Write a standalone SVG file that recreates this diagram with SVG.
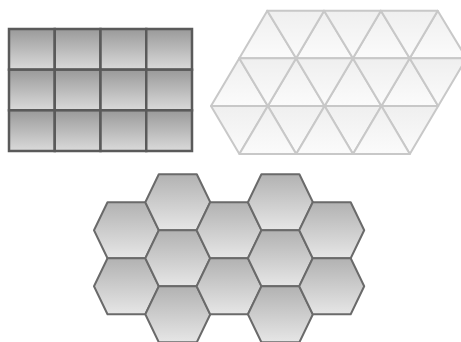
<svg xmlns="http://www.w3.org/2000/svg" xmlns:xlink="http://www.w3.org/1999/xlink" width="461" height="342" viewBox="0 0 461 342">
<defs>
<linearGradient id="gSq" x1="0" y1="0" x2="0" y2="1"><stop offset="0" stop-color="#9a9a9a"/><stop offset="1" stop-color="#dadada"/></linearGradient>
<linearGradient id="gHex" x1="0" y1="0" x2="0" y2="1"><stop offset="0" stop-color="#b2b2b2"/><stop offset="1" stop-color="#e6e6e6"/></linearGradient>
<linearGradient id="gTri" x1="0" y1="0" x2="0" y2="1"><stop offset="0" stop-color="#efefef"/><stop offset="1" stop-color="#fbfbfb"/></linearGradient>
<polygon id="hex" points="-19,-28 19,-28 32.5,0 19,28 -19,28 -32.5,0"/>
</defs>
<style>
.sq{fill:url(#gSq);stroke:#5a5a5a;stroke-width:2.5}
.tri{fill:url(#gTri);stroke:#c8c8c8;stroke-width:2;stroke-linejoin:round}
.hx{fill:url(#gHex);stroke:#6a6a6a;stroke-width:2;stroke-linejoin:round}
</style>
<rect width="461" height="342" fill="#ffffff"/>
<g id="squares">
<rect class="sq" x="9" y="29" width="45.75" height="40.67"/>
<rect class="sq" x="54.75" y="29" width="45.75" height="40.67"/>
<rect class="sq" x="100.5" y="29" width="45.75" height="40.67"/>
<rect class="sq" x="146.25" y="29" width="45.75" height="40.67"/>
<rect class="sq" x="9" y="69.67" width="45.75" height="40.67"/>
<rect class="sq" x="54.75" y="69.67" width="45.75" height="40.67"/>
<rect class="sq" x="100.5" y="69.67" width="45.75" height="40.67"/>
<rect class="sq" x="146.25" y="69.67" width="45.75" height="40.67"/>
<rect class="sq" x="9" y="110.33" width="45.75" height="40.67"/>
<rect class="sq" x="54.75" y="110.33" width="45.75" height="40.67"/>
<rect class="sq" x="100.5" y="110.33" width="45.75" height="40.67"/>
<rect class="sq" x="146.25" y="110.33" width="45.75" height="40.67"/>
</g>
<g id="triangles">
<polygon class="tri" points="267.3,10.7 239.3,58.3 296.1,58.3"/>
<polygon class="tri" points="324.1,10.7 296.1,58.3 352.9,58.3"/>
<polygon class="tri" points="380.9,10.7 352.9,58.3 409.7,58.3"/>
<polygon class="tri" points="437.7,10.7 409.7,58.3 466.5,58.3"/>
<polygon class="tri" points="267.3,10.7 324.1,10.7 296.1,58.3"/>
<polygon class="tri" points="324.1,10.7 380.9,10.7 352.9,58.3"/>
<polygon class="tri" points="380.9,10.7 437.7,10.7 409.7,58.3"/>
<polygon class="tri" points="239.3,58.3 211,106 267.8,106"/>
<polygon class="tri" points="296.1,58.3 267.8,106 324.6,106"/>
<polygon class="tri" points="352.9,58.3 324.6,106 381.4,106"/>
<polygon class="tri" points="409.7,58.3 381.4,106 438.2,106"/>
<polygon class="tri" points="239.3,58.3 296.1,58.3 267.8,106"/>
<polygon class="tri" points="296.1,58.3 352.9,58.3 324.6,106"/>
<polygon class="tri" points="352.9,58.3 409.7,58.3 381.4,106"/>
<polygon class="tri" points="409.7,58.3 466.5,58.3 438.2,106"/>
<polygon class="tri" points="211,106 267.8,106 239.4,154"/>
<polygon class="tri" points="267.8,106 324.6,106 296.2,154"/>
<polygon class="tri" points="324.6,106 381.4,106 353,154"/>
<polygon class="tri" points="381.4,106 438.2,106 409.8,154"/>
<polygon class="tri" points="239.4,154 296.2,154 267.8,106"/>
<polygon class="tri" points="296.2,154 353,154 324.6,106"/>
<polygon class="tri" points="353,154 409.8,154 381.4,106"/>
</g>
<g id="hexagons">
<use class="hx" xlink:href="#hex" href="#hex" transform="translate(126.5,230.3)"/>
<use class="hx" xlink:href="#hex" href="#hex" transform="translate(126.5,286.3)"/>
<use class="hx" xlink:href="#hex" href="#hex" transform="translate(177.8,202.3)"/>
<use class="hx" xlink:href="#hex" href="#hex" transform="translate(177.8,258.3)"/>
<use class="hx" xlink:href="#hex" href="#hex" transform="translate(177.8,314.3)"/>
<use class="hx" xlink:href="#hex" href="#hex" transform="translate(229.1,230.3)"/>
<use class="hx" xlink:href="#hex" href="#hex" transform="translate(229.1,286.3)"/>
<use class="hx" xlink:href="#hex" href="#hex" transform="translate(280.4,202.3)"/>
<use class="hx" xlink:href="#hex" href="#hex" transform="translate(280.4,258.3)"/>
<use class="hx" xlink:href="#hex" href="#hex" transform="translate(280.4,314.3)"/>
<use class="hx" xlink:href="#hex" href="#hex" transform="translate(331.7,230.3)"/>
<use class="hx" xlink:href="#hex" href="#hex" transform="translate(331.7,286.3)"/>
</g>
</svg>
